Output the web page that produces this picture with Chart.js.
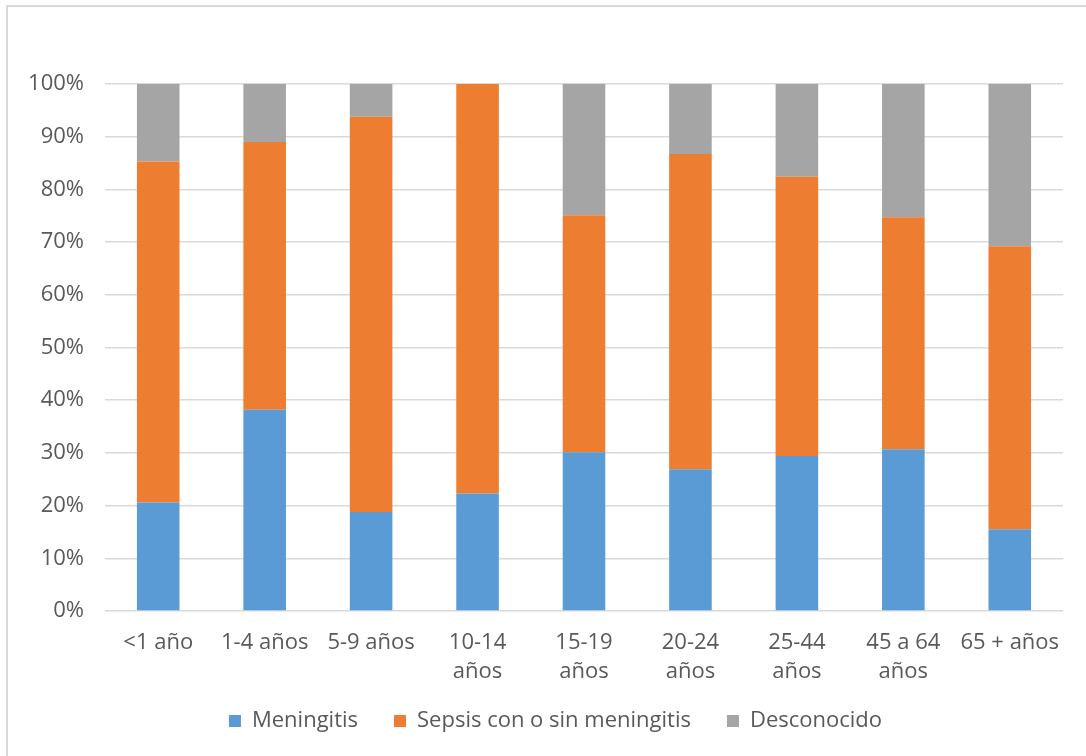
<!DOCTYPE html>
<html lang="es">
<head>
<meta charset="utf-8">
<title>Distribución por grupo de edad</title>
<script src="https://cdn.jsdelivr.net/npm/chart.js@4/dist/chart.umd.min.js"></script>
<style>
  html, body { margin: 0; padding: 0; background: #ffffff; }
  #wrap { width: 1086px; height: 756px; position: relative; }
</style>
</head>
<body>
<div id="wrap"><canvas id="chart" width="1086" height="756"></canvas></div>
<script>
// Age groups (multi-line where the label wraps)
const categories = [
  '<1 año', '1-4 años', '5-9 años',
  ['10-14', 'años'], ['15-19', 'años'], ['20-24', 'años'],
  ['25-44', 'años'], ['45 a 64', 'años'], '65 + años'
];

// Share of cases per clinical presentation (%)
const meningitis  = [20.6, 38.2, 18.8, 22.3, 30.1, 26.9, 29.4, 30.7, 15.5];
const sepsis      = [64.7, 50.8, 75.0, 77.7, 45.0, 59.8, 53.0, 44.0, 53.7];
const desconocido = [14.7, 11.0,  6.2,  0.0, 24.9, 13.3, 17.6, 25.3, 30.8];

const seriesNames = ['Meningitis', 'Sepsis con o sin meningitis', 'Desconocido'];
const yTicks = [0, 10, 20, 30, 40, 50, 60, 70, 80, 90, 100];

const textColor = '#595959';
const gridColor = '#d9d9d9';
const fontFamily = '"Open Sans", "Liberation Sans", sans-serif';

// White background plus the light frame on the top and left edges
const framePlugin = {
  id: 'frame',
  beforeDraw(chart) {
    const ctx = chart.ctx;
    ctx.save();
    ctx.fillStyle = '#ffffff';
    ctx.fillRect(0, 0, chart.width, chart.height);
    ctx.strokeStyle = gridColor;
    ctx.lineWidth = 2;
    ctx.beginPath();
    ctx.moveTo(7, chart.height);
    ctx.lineTo(7, 6);
    ctx.lineTo(chart.width, 6);
    ctx.stroke();
    ctx.restore();
  }
};

// Let the wrapped category labels use the space below the axis box,
// and centre the legend row under the plot rather than the whole canvas
const layoutTweaks = {
  id: 'layoutTweaks',
  afterLayout(chart) {
    chart.scales.x.bottom = chart.height;
    const shift = 24;
    chart.legend.left += shift;
    chart.legend.right += shift;
  }
};

new Chart(document.getElementById('chart'), {
  type: 'bar',
  data: {
    labels: categories,
    datasets: [
      { label: seriesNames[0], data: meningitis,  backgroundColor: '#5B9BD5' },
      { label: seriesNames[1], data: sepsis,      backgroundColor: '#ED7D31' },
      { label: seriesNames[2], data: desconocido, backgroundColor: '#A5A5A5' }
    ]
  },
  options: {
    responsive: false,
    animation: false,
    layout: { padding: { top: 84, left: 0, right: 23, bottom: 14 } },
    datasets: { bar: { barPercentage: 0.4, categoryPercentage: 1.0 } },
    plugins: {
      tooltip: { enabled: false },
      legend: {
        position: 'bottom',
        labels: {
          color: textColor,
          font: { family: fontFamily, size: 22 },
          boxWidth: 12,
          boxHeight: 12,
          padding: 36
        }
      }
    },
    scales: {
      x: {
        stacked: true,
        grid: { display: false },
        border: { display: false },
        ticks: {
          color: textColor,
          font: { family: fontFamily, size: 22, lineHeight: 1.32 },
          padding: 9,
          maxRotation: 0,
          autoSkip: false
        },
        afterFit(scale) { scale.height = 63; }
      },
      y: {
        stacked: true,
        min: 0,
        max: 100,
        afterBuildTicks(scale) { scale.ticks = yTicks.map(v => ({ value: v })); },
        grid: { color: gridColor, lineWidth: 1.5, drawTicks: false },
        border: { display: false },
        ticks: {
          color: textColor,
          font: { family: fontFamily, size: 22 },
          padding: 21,
          callback: v => v + '%'
        },
        afterFit(scale) { scale.width = 105; }
      }
    }
  },
  plugins: [framePlugin, layoutTweaks]
});
</script>
</body>
</html>
